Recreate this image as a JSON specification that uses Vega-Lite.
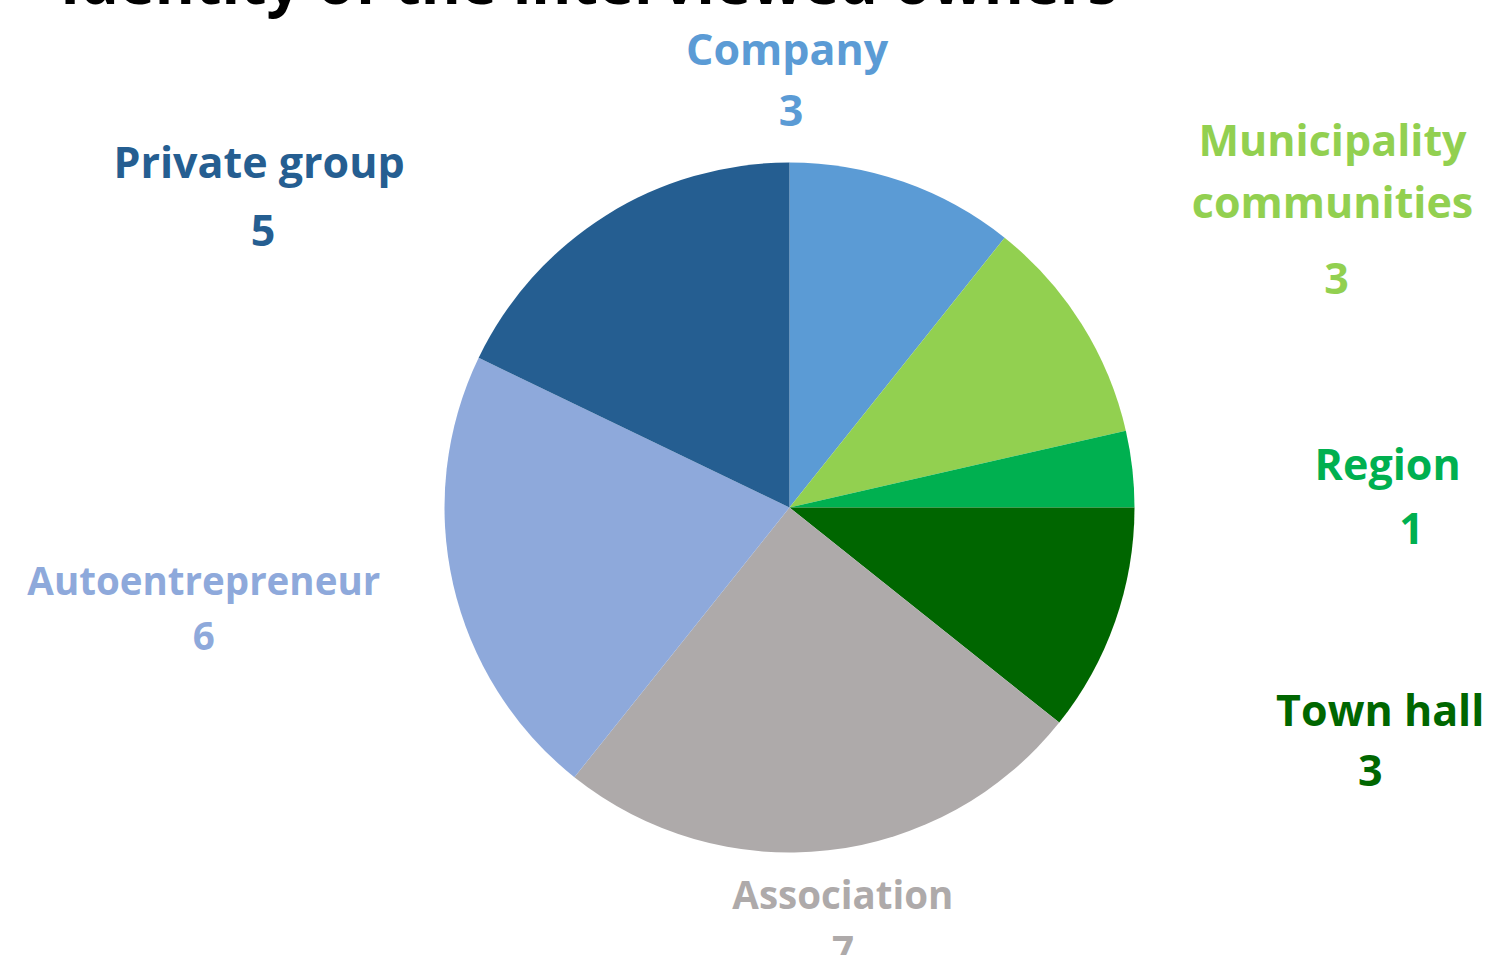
{
  "$schema": "https://vega.github.io/schema/vega-lite/v6.json",
  "width": 1395,
  "height": 895,
  "autosize": {"type": "none"},
  "padding": {"left": 92, "top": 60, "right": 0, "bottom": 0},
  "background": "white",
  "title": {
    "text": "Identity of the interviewed owners",
    "anchor": "start",
    "frame": "group",
    "font": "Open Sans",
    "fontSize": 61,
    "fontWeight": "bold",
    "color": "#000000",
    "dx": -32,
    "offset": 14
  },
  "data": {
    "values": [
      {"owner": "Company", "count": 3, "rank": 1},
      {"owner": "Municipality\ncommunities", "count": 3, "rank": 2},
      {"owner": "Region", "count": 1, "rank": 3},
      {"owner": "Town hall", "count": 3, "rank": 4},
      {"owner": "Association", "count": 7, "rank": 5},
      {"owner": "Autoentrepreneur", "count": 6, "rank": 6},
      {"owner": "Private group", "count": 5, "rank": 7}
    ]
  },
  "encoding": {
    "theta": {"field": "count", "type": "quantitative", "stack": true},
    "order": {"field": "rank", "type": "quantitative"},
    "color": {
      "field": "owner",
      "type": "nominal",
      "scale": {
        "domain": ["Company", "Municipality\ncommunities", "Region", "Town hall", "Association", "Autoentrepreneur", "Private group"],
        "range": ["#5B9BD5", "#92D050", "#00B050", "#006600", "#AEAAAA", "#8EA9DB", "#255E91"]
      },
      "legend": null
    }
  },
  "layer": [
    {"mark": {"type": "arc", "outerRadius": 345}},
    {
      "mark": {
        "type": "text",
        "radius": 450,
        "font": "Open Sans",
        "fontWeight": "bold",
        "align": "center",
        "baseline": "middle",
        "lineBreak": "\n",
        "lineHeight": 62,
        "fontSize": {"expr": "datum.owner === 'Association' ? 38.5 : datum.owner === 'Autoentrepreneur' ? 38.5 : 43"},
        "dx": {"expr": "datum.owner === 'Company' ? -151 : datum.owner === 'Region' ? 151 : datum.owner === 'Town hall' ? 166 : datum.owner === 'Association' ? 3 : datum.owner === 'Autoentrepreneur' ? -147 : datum.owner === 'Private group' ? -291 : 162"},
        "dy": {"expr": "datum.owner === 'Company' ? -31 : datum.owner === 'Region' ? 10 : datum.owner === 'Town hall' ? 57 : datum.owner === 'Association' ? -58 : datum.owner === 'Autoentrepreneur' ? -25 : datum.owner === 'Private group' ? 39 : -125"}
      },
      "encoding": {"text": {"field": "owner", "type": "nominal"}}
    },
    {
      "mark": {
        "type": "text",
        "radius": 450,
        "font": "Open Sans",
        "fontWeight": "bold",
        "align": "center",
        "baseline": "middle",
        "fontSize": {"expr": "datum.owner === 'Association' ? 38.5 : datum.owner === 'Autoentrepreneur' ? 38.5 : 43"},
        "dx": {"expr": "datum.owner === 'Company' ? -147 : datum.owner === 'Region' ? 175 : datum.owner === 'Town hall' ? 156 : datum.owner === 'Association' ? 3 : datum.owner === 'Autoentrepreneur' ? -147 : datum.owner === 'Private group' ? -287 : 166"},
        "dy": {"expr": "datum.owner === 'Company' ? 30 : datum.owner === 'Region' ? 74 : datum.owner === 'Town hall' ? 117 : datum.owner === 'Association' ? -3 : datum.owner === 'Autoentrepreneur' ? 30 : datum.owner === 'Private group' ? 107 : 13"}
      },
      "encoding": {"text": {"field": "count", "type": "quantitative"}}
    }
  ]
}
